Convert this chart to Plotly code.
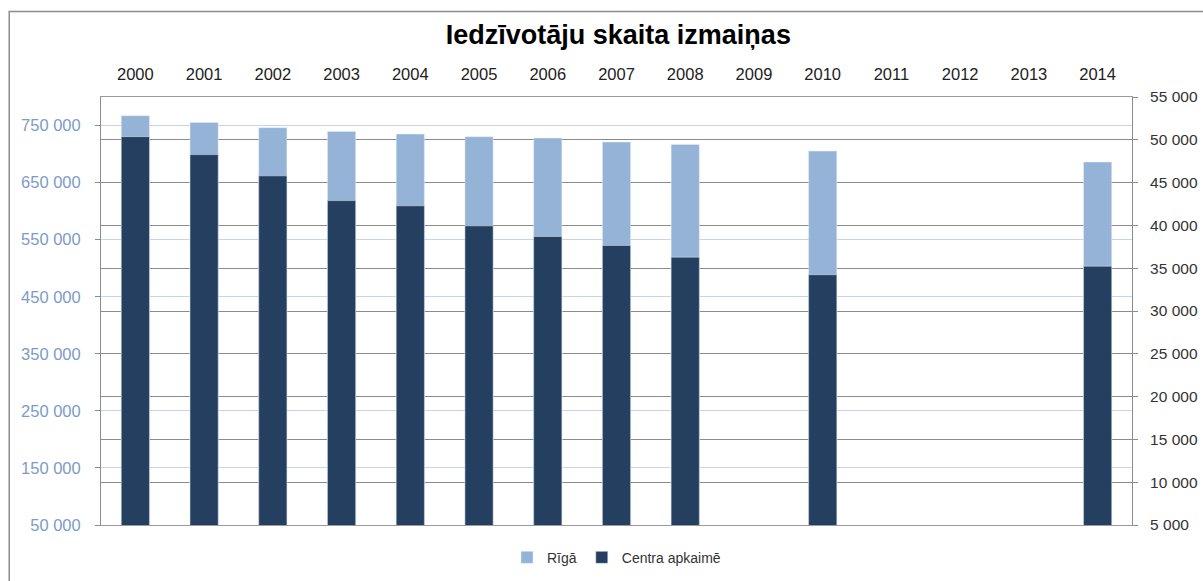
import plotly.graph_objects as go

# dati
gadi = [str(g) for g in range(2000, 2015)]
riga = [767200, 755500, 746200, 739700, 735100, 730400, 728100, 721100, 716900,
        None, 705300, None, None, None, 686000]
centrs = [50370, 48270, 45790, 42900, 42290, 39950, 38710, 37660, 36290,
          None, 34240, None, None, None, 35240]

left_ticks = list(range(50000, 800000, 100000))
right_ticks = list(range(5000, 55001, 5000))

fig = go.Figure()
fig.add_trace(go.Bar(x=gadi, y=riga, name="Rīgā", marker_color="#95B3D7",
                     width=0.41, yaxis="y"))
fig.add_trace(go.Bar(x=gadi, y=centrs, name="Centra apkaimē", marker_color="#243F60",
                     width=0.41, yaxis="y2"))

fig.update_layout(
    width=1203, height=581,
    margin=dict(l=101, r=71, t=97, b=56, autoexpand=False),
    paper_bgcolor="white", plot_bgcolor="white",
    barmode="overlay",
    separators=". ",
    font=dict(family="Liberation Sans, Arial", size=16, color="#222222"),
    title=dict(text="<b>Iedzīvotāju skaita izmaiņas</b>", x=0.514, xanchor="center",
               y=0.94, yanchor="middle", font=dict(size=27, color="#000000")),
    xaxis=dict(type="category", side="top", showgrid=False, ticks="",
               showline=True, linecolor="#9a9a9a", mirror=True,
               ticklabelstandoff=9, tickfont=dict(size=16.5, color="#222222")),
    yaxis=dict(range=[50000, 800000], tickvals=left_ticks, tickformat=",d",
               showgrid=True, gridcolor="#C6D6E8", gridwidth=1,
               showline=True, linecolor="#8c8c8c", ticks="outside", ticklen=5,
               tickcolor="#8c8c8c", zeroline=False,
               tickfont=dict(size=16.5, color="#7D9BC8"), ticklabelstandoff=11),
    yaxis2=dict(range=[5000, 55000], tickvals=right_ticks, tickformat=",d",
                overlaying="y", side="right",
                showgrid=True, gridcolor="#8a8a8a", gridwidth=1,
                showline=True, linecolor="#8c8c8c", ticks="outside", ticklen=5,
                tickcolor="#8c8c8c", zeroline=False,
                tickfont=dict(size=15.5, color="#333333"), ticklabelstandoff=9),
    legend=dict(orientation="h", x=0.5, xanchor="center",
                yref="container", y=0.04, yanchor="middle",
                font=dict(size=14, color="#333333"), traceorder="normal",
                itemwidth=30),
    showlegend=True,
)

# ramis ap diagrammu
fig.add_shape(type="rect", xref="paper", yref="paper",
              x0=-0.089, x1=1.08, y0=-0.2, y1=1.2,
              line=dict(color="#8c8c8c", width=1.5), layer="below")

fig.write_html("out.html", config={"displayModeBar": False},
               post_script="document.body.style.margin='0px';")
